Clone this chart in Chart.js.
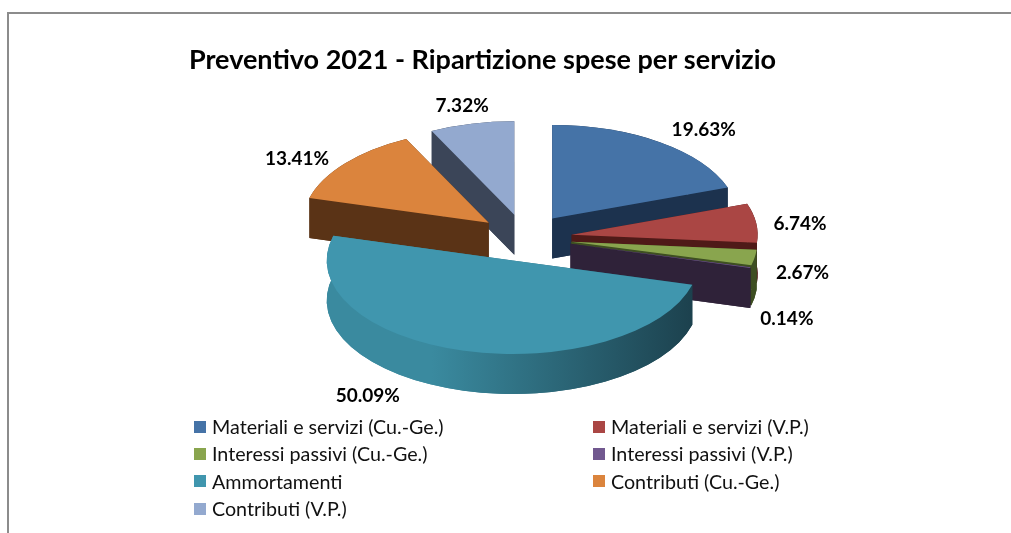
<!DOCTYPE html>
<html lang="it">
<head>
<meta charset="UTF-8">
<title>Preventivo 2021</title>
<style>
    body { margin: 0; background: #fff; overflow: hidden; font-family: Lato, sans-serif; }
    #frame { position: absolute; left: 7px; top: 12px; right: 0; bottom: 0; border-top: 2px solid #8c8c8c; border-left: 2px solid #8c8c8c; }
    #wrap { position: absolute; left: 0; top: 0; width: 1011px; height: 533px; }
    #legend { position: absolute; left: 194px; top: 413px; width: 800px; display: grid; grid-template-columns: 399px 380px; grid-auto-rows: 27.3px; font-size: 19.7px; color: #111; }
    #legend div { display: flex; align-items: center; white-space: nowrap; }
    #legend i { display: inline-block; width: 12px; height: 12px; margin-right: 6px; }
</style>
</head>
<body>
<div id="frame"></div>
<div id="wrap"><canvas id="pie" width="1011" height="533"></canvas></div>
<div id="legend"></div>
<script src="https://cdn.jsdelivr.net/npm/chart.js@4/dist/chart.umd.min.js"></script>
<script>
const chartTitle = 'Preventivo 2021 - Ripartizione spese per servizio'
const categories = ['Materiali e servizi (Cu.-Ge.)', 'Materiali e servizi (V.P.)', 'Interessi passivi (Cu.-Ge.)', 'Interessi passivi (V.P.)', 'Ammortamenti', 'Contributi (Cu.-Ge.)', 'Contributi (V.P.)']
const values = [19.63, 6.74, 2.67, 0.14, 50.09, 13.41, 7.32]
const topColors = ['#4573a7', '#aa4644', '#89a54e', '#71588f', '#4096ae', '#db843d', '#93a9cf']
const wallColors = ['#1c324e', '#4f1a18', '#3e4f22', '#2f2239', null, '#5a3316', '#3b4558']

// look of the tilted pie, in screen pixels
const pieRx = 186, pieRy = 93.5, depth = 40, explode = 47
const pieShiftX = 42.5 // title is centred left of the pie
const drawOrder = [6, 5, 0, 1, 2, 3, 4]
const labelBase = 245
const labelShift = [[37, -7], [32, 2], [36, 14], [25, 50], [-93, 39], [-39, 0], [-7, -12]]

const tiltPlugin = {
    id: 'tilt',
    beforeDatasetsDraw(chart) {
        const ctx = chart.ctx
        const arcs = chart.getDatasetMeta(0).data

        // side of a slice: the bottom face, the rim and the two cut faces
        function drawWall(arc, fill) {
            const mid = (arc.startAngle + arc.endAngle) / 2
            const cx = arc.x + pieShiftX + Math.cos(mid) * explode
            const cy = arc.y + Math.sin(mid) * explode * pieRy / pieRx
            const a0 = arc.startAngle, a1 = arc.endAngle
            ctx.fillStyle = fill

            ctx.beginPath()
            ctx.moveTo(cx, cy + depth)
            ctx.ellipse(cx, cy + depth, pieRx, pieRy, 0, a0, a1)
            ctx.closePath()
            ctx.fill()

            ctx.beginPath()
            ctx.ellipse(cx, cy, pieRx, pieRy, 0, a0, a1)
            ctx.ellipse(cx, cy + depth, pieRx, pieRy, 0, a1, a0, true)
            ctx.closePath()
            ctx.fill()

            ;[a0, a1].forEach(a => {
                const px = cx + Math.cos(a) * pieRx
                const py = cy + Math.sin(a) * pieRy
                ctx.beginPath()
                ctx.moveTo(cx, cy)
                ctx.lineTo(px, py)
                ctx.lineTo(px, py + depth)
                ctx.lineTo(cx, cy + depth)
                ctx.closePath()
                ctx.fill()
            })
        }

        function drawTop(arc) {
            const r = arc.outerRadius
            const mid = (arc.startAngle + arc.endAngle) / 2
            const e = explode * r / pieRx
            ctx.save()
            ctx.translate(arc.x + pieShiftX, arc.y)
            ctx.scale(pieRx / r, pieRy / r)
            ctx.translate(-arc.x, -arc.y)
            ctx.translate(Math.cos(mid) * e, Math.sin(mid) * e)
            arc.draw(ctx)
            ctx.restore()
        }

        drawOrder.forEach(i => {
            const arc = arcs[i]
            let wall = wallColors[i]
            if (!wall) {
                wall = ctx.createLinearGradient(arc.x + pieShiftX - pieRx, 0, arc.x + pieShiftX + pieRx, 0)
                wall.addColorStop(0, '#3a8a9f')
                wall.addColorStop(0.25, '#3a8a9f')
                wall.addColorStop(1, '#1a3c48')
            }
            ctx.save()
            drawWall(arc, wall)
            ctx.restore()
            drawTop(arc)
        })
        return false
    },
    afterDraw(chart) {
        const ctx = chart.ctx
        const arcs = chart.getDatasetMeta(0).data
        ctx.save()
        ctx.font = 'bold 19px Lato'
        ctx.fillStyle = '#000'
        ctx.textAlign = 'center'
        ctx.textBaseline = 'middle'
        arcs.forEach((arc, i) => {
            const mid = (arc.startAngle + arc.endAngle) / 2
            const x = arc.x + pieShiftX + Math.cos(mid) * labelBase + labelShift[i][0]
            const y = arc.y + Math.sin(mid) * labelBase * pieRy / pieRx + labelShift[i][1]
            ctx.fillText(values[i].toFixed(2) + '%', x, y)
        })
        ctx.restore()
    }
}

new Chart(document.getElementById('pie').getContext('2d'), {
    type: 'pie',
    data: {
        labels: categories,
        datasets: [{ data: values, backgroundColor: topColors, borderWidth: 0 }]
    },
    options: {
        responsive: false,
        animation: false,
        layout: { padding: { left: 0, right: 46, top: 0, bottom: 134 } },
        plugins: {
            legend: { display: false },
            tooltip: { enabled: false },
            title: {
                display: true,
                text: chartTitle,
                color: '#000',
                font: { family: 'Lato', size: 27, weight: 'bold' },
                padding: { top: 44, bottom: 0 }
            }
        }
    },
    plugins: [tiltPlugin]
})

// legend in two fixed columns, the chart's own one can't line them up
const legendBox = document.getElementById('legend')
categories.forEach((name, i) => {
    const row = document.createElement('div')
    row.innerHTML = `<i style="background:${topColors[i]}"></i><span>${name}</span>`
    legendBox.appendChild(row)
})
</script>
</body>
</html>
